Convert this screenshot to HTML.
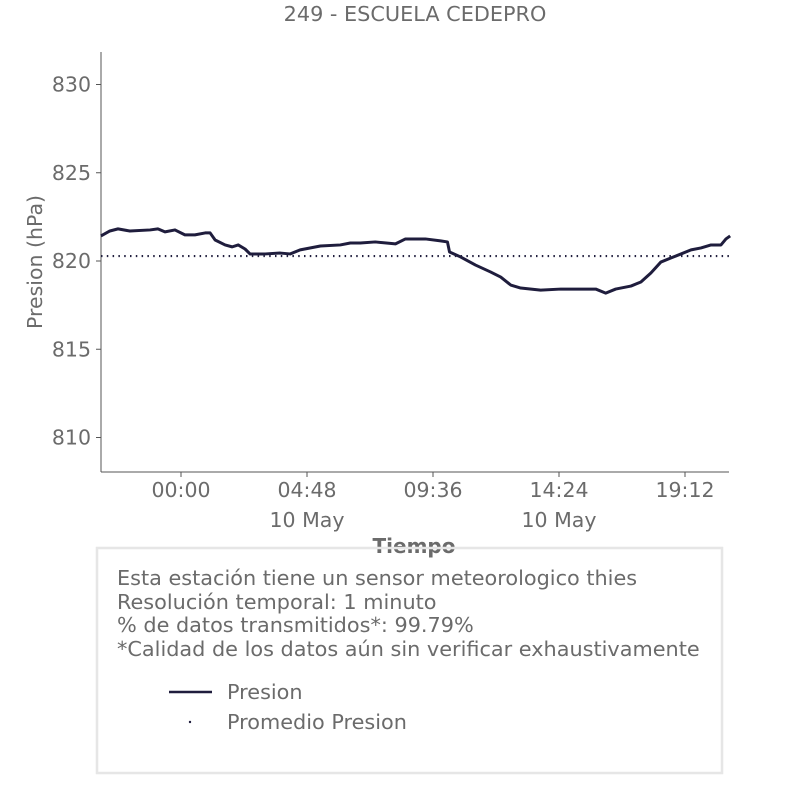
<!DOCTYPE html>
<html><head><meta charset="utf-8"><style>
body{margin:0;background:#fff;}
svg text{font-family:"DejaVu Sans","Liberation Sans",sans-serif;fill:#6b6b6b;}
</style></head><body>
<svg width="806" height="806">
<text x="415" y="21" font-size="20.8" text-anchor="middle">249 - ESCUELA CEDEPRO</text>
<g id="axes"></g>
<g id="plot"></g>
<text x="414" y="553" font-size="20" font-weight="bold" text-anchor="middle">Tiempo</text>
<text transform="translate(42,262) rotate(-90)" font-size="20.5" text-anchor="middle">Presion (hPa)</text>
<rect x="97" y="548" width="625" height="225" fill="none" stroke="#e6e6e6" stroke-width="2.5"/>
<g font-size="20.8">
<text x="117" y="585">Esta estación tiene un sensor meteorologico thies</text>
<text x="117" y="609">Resolución temporal: 1 minuto</text>
<text x="117" y="632">% de datos transmitidos*: 99.79%</text>
<text x="117" y="656">*Calidad de los datos aún sin verificar exhaustivamente</text>
</g>
<line x1="169" y1="692" x2="212" y2="692" stroke="#1f1d3d" stroke-width="2.5"/>
<text x="227" y="699" font-size="20.8">Presion</text>
<circle cx="190" cy="722" r="1.2" fill="#1f1d3d"/>
<text x="227" y="729" font-size="20.8">Promedio Presion</text>
</svg>
<script>
const hours=[-3.05,-2.71,-2.40,-1.95,-1.18,-0.88,-0.61,-0.23,0.15,0.53,0.92,1.11,1.30,1.68,1.95,2.18,2.44,2.63,3.21,3.78,4.16,4.54,5.31,6.07,6.45,6.83,7.40,8.17,8.55,9.31,9.89,10.15,10.23,10.65,11.22,11.79,12.18,12.56,12.94,13.70,14.47,15.23,15.80,16.18,16.56,17.14,17.52,17.90,18.28,18.66,19.05,19.43,19.81,20.19,20.57,20.76,20.92];
const pressure=[821.42,821.70,821.82,821.70,821.76,821.82,821.65,821.76,821.48,821.48,821.59,821.59,821.19,820.91,820.80,820.91,820.68,820.40,820.40,820.45,820.40,820.63,820.85,820.91,821.02,821.02,821.08,820.97,821.25,821.25,821.14,821.08,820.51,820.23,819.77,819.38,819.09,818.64,818.47,818.35,818.41,818.41,818.41,818.18,818.41,818.58,818.81,819.32,819.94,820.17,820.40,820.63,820.74,820.91,820.91,821.25,821.42];
const meanPressure=[820.28];
const yTicks=[810,815,820,825,830];
const xTickHours=[0,4.8,9.6,14.4,19.2];
const xTickLabels=["00:00","04:48","09:36","14:24","19:12"];
const xTickDates=["","10 May","","10 May",""];
const X0=101,X1=729,Y0=52,Y1=472;
const xs=h=>181+(h)*26.25;
const ys=v=>261-(v-820)*17.65;
const NS="http://www.w3.org/2000/svg";
const axes=document.getElementById('axes'),plot=document.getElementById('plot');
function mk(tag,attrs,parent){const e=document.createElementNS(NS,tag);for(const k in attrs)e.setAttribute(k,attrs[k]);parent.appendChild(e);return e;}
let a=mk('line',{x1:X0,y1:Y0,x2:X0,y2:Y1,stroke:'#555','stroke-width':1},axes);


a=mk('line',{x1:X0,y1:Y1,x2:X1,y2:Y1,stroke:'#555','stroke-width':1},axes);


yTicks.forEach(v=>{const y=ys(v);
 mk('line',{x1:X0-5,y1:y,x2:X0,y2:y,stroke:'#555'},axes);
 const t=mk('text',{x:X0-10,y:y+7,'font-size':20.5,'text-anchor':'end'},axes);t.textContent=v;
 
 
});
xTickHours.forEach((h,i)=>{const x=xs(h);
 mk('line',{x1:x,y1:Y1,x2:x,y2:Y1+5,stroke:'#555'},axes);
 const t=mk('text',{x:x,y:497,'font-size':20.5,'text-anchor':'middle'},axes);t.textContent=xTickLabels[i];
 
 
 if(xTickDates[i]){const d=mk('text',{x:x,y:527,'font-size':20.5,'text-anchor':'middle'},axes);d.textContent=xTickDates[i];
 
 }
});
const m=mk('line',{x1:X0,y1:ys(meanPressure[0]),x2:X1,y2:ys(meanPressure[0]),stroke:'#1f1d3d','stroke-width':2.2,'stroke-dasharray':'1.5 4.3'},plot);


const p=mk('polyline',{points:hours.map((h,i)=>xs(h)+','+ys(pressure[i])).join(' '),fill:'none',stroke:'#1f1d3d','stroke-width':3,'stroke-linejoin':'round'},plot);


</script>
</body></html>
